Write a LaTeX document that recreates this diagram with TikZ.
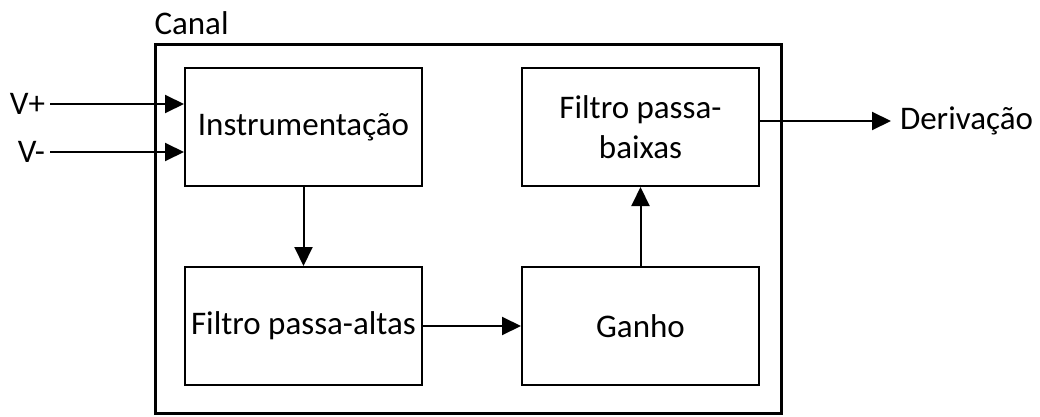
\documentclass[tikz,border=0pt]{standalone}
\usepackage{fontspec}
\setmainfont{Carlito}
\usetikzlibrary{arrows.meta,positioning}

\begin{document}
\begin{tikzpicture}[x=1pt, y=-1pt, line width=2pt, node distance={79pt and 98pt},
  font=\fontsize{33}{40}\selectfont,
  main/.style = {draw, line width=2pt, minimum width=237pt, minimum height=118pt, align=center, inner sep=2pt},
  >={Triangle[length=19pt,width=18pt]}]
\useasboundingbox (0,0) rectangle (1040,417);
\node[draw, line width=3pt, minimum width=626pt, minimum height=368pt, inner sep=0pt,
  label={[anchor=south west, inner sep=0pt, yshift=8pt]north west:Canal}] (canal) at (468,229) {};
\node[main] (instr) at (303.5,127) {Instrumentação};
\node[main] (baixas) [right=of instr] {Filtro passa-\\baixas};
\node[main] (altas) [below=of instr] {Filtro passa-altas};
\node[main] (ganho) [below=of baixas] {Ganho};
\node[anchor=east, inner sep=4pt] (vplus) at (50,104) {V+};
\node[anchor=east, inner sep=4pt] (vminus) at (50,152) {V-};
\node[anchor=west, inner sep=8pt] (deriv) at (891,121) {Derivação};
\draw[->] (vplus) -- (vplus -| instr.west);
\draw[->] (vminus) -- (vminus -| instr.west);
\draw[->] (instr) -- (altas);
\draw[->] (altas) -- (ganho);
\draw[->] (ganho) -- (baixas);
\draw[->] (baixas.east |- deriv) -- (deriv);
\end{tikzpicture}
\end{document}
